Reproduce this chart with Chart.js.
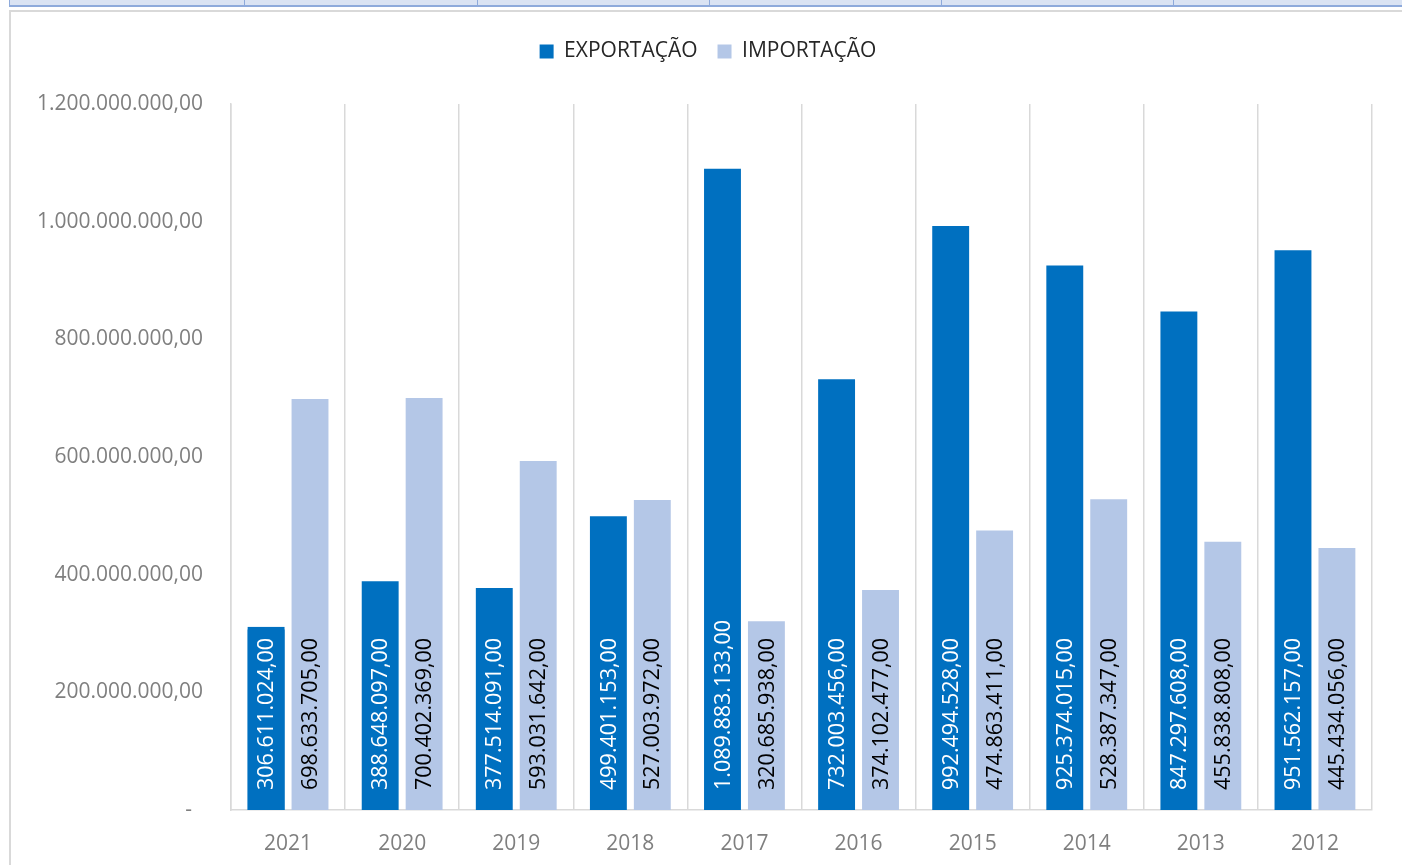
<!DOCTYPE html>
<html>
<head>
<meta charset="utf-8">
<script src="https://cdn.jsdelivr.net/npm/chart.js@4.4.1/dist/chart.umd.min.js"></script>
<style>
  body { margin: 0; background: #fff; overflow: hidden; }
  #strip { position: absolute; left: 9px; top: 0; width: 1393px; height: 5px; background: #dae3f3; border-bottom: 2px solid #8eaadb; border-left: 1px solid #8eaadb; }
  .col { position: absolute; top: 0; height: 5px; width: 1px; background: #8eaadb; }
  #frame { position: absolute; left: 9px; top: 10px; width: 1400px; height: 870px; border-left: 2px solid #d9d9d9; border-top: 2px solid #d9d9d9; }
  canvas { position: absolute; left: 0; top: 0; }
</style>
</head>
<body>
<div id="strip">
  <div class="col" style="left:234px"></div>
  <div class="col" style="left:467px"></div>
  <div class="col" style="left:699px"></div>
  <div class="col" style="left:931px"></div>
  <div class="col" style="left:1163px"></div>
</div>
<div id="frame"></div>
<canvas id="chart" width="1402" height="865"></canvas>
<script>
const years = ['2021', '2020', '2019', '2018', '2017', '2016', '2015', '2014', '2013', '2012'];
const exportacao = [306611024, 388648097, 377514091, 499401153, 1089883133, 732003456, 992494528, 925374015, 847297608, 951562157];
const importacao = [698633705, 700402369, 593031642, 527003972, 320685938, 374102477, 474863411, 528387347, 455838808, 445434056];
const yTicks = [0, 200000000, 400000000, 600000000, 800000000, 1000000000, 1200000000];

const FONT = '"Open Sans", sans-serif';

// formato brasileiro: 1.234.567,00
function fmt(v) {
    const s = Math.round(v).toString().replace(/\B(?=(\d{3})+(?!\d))/g, '.');
    return s + ',00';
}

// espaço extra abaixo da legenda e leve deslocamento para a direita
const legendGap = {
    id: 'legendGap',
    afterInit(chart) {
        const lg = chart.legend;
        const fit = lg.fit;
        lg.fit = function () {
            fit.call(this);
            this.height += 32;
        };
    },
    beforeDraw(chart) {
        chart.legend.left += 12;
        chart.legend.right += 12;
    }
};

// rótulos verticais na base das barras, com caixa da cor da barra
const baseLabels = {
    id: 'baseLabels',
    afterDatasetsDraw(chart) {
        const ctx = chart.ctx;
        ctx.save();
        ctx.font = '21.5px ' + FONT;
        chart.data.datasets.forEach((ds, i) => {
            const meta = chart.getDatasetMeta(i);
            meta.data.forEach((bar, j) => {
                const text = fmt(ds.data[j]);
                const tw = ctx.measureText(text).width;
                const w = bar.width;
                const top = bar.base - 20 - tw - 11;
                if (top < bar.y) {
                    ctx.fillStyle = ds.backgroundColor;
                    ctx.fillRect(bar.x - w / 2, top, w, bar.base - top);
                }
                ctx.save();
                ctx.translate(bar.x + 1, bar.base - 20);
                ctx.rotate(-Math.PI / 2);
                ctx.fillStyle = ds.labelColor;
                ctx.textAlign = 'left';
                ctx.textBaseline = 'middle';
                ctx.fillText(text, 0, 0);
                ctx.restore();
            });
        });
        ctx.restore();
    }
};

new Chart(document.getElementById('chart'), {
    type: 'bar',
    data: {
        labels: years,
        datasets: [{
            label: 'EXPORTAÇÃO',
            data: exportacao,
            backgroundColor: '#0070c0',
            labelColor: '#ffffff',
            barPercentage: 0.84,
            categoryPercentage: 0.77
        }, {
            label: 'IMPORTAÇÃO',
            data: importacao,
            backgroundColor: '#b4c7e7',
            labelColor: '#000000',
            barPercentage: 0.84,
            categoryPercentage: 0.77
        }]
    },
    options: {
        responsive: false,
        animation: false,
        devicePixelRatio: 1,
        layout: {
            padding: { left: 20, right: 30, top: 21, bottom: 8 }
        },
        plugins: {
            legend: {
                position: 'top',
                labels: {
                    color: '#262626',
                    font: { family: FONT, size: 21 },
                    boxWidth: 14,
                    boxHeight: 14,
                    padding: 20
                }
            },
            tooltip: { enabled: false }
        },
        scales: {
            x: {
                grid: {
                    display: true,
                    color: '#d9d9d9',
                    lineWidth: 1.5,
                    drawTicks: false
                },
                border: { color: '#d9d9d9', width: 1.5 },
                ticks: {
                    color: '#7f7f7f',
                    font: { family: FONT, size: 21 },
                    padding: 21
                },
                afterFit(scale) {
                    scale.height = 47;
                }
            },
            y: {
                min: 0,
                max: 1200000000,
                grid: { display: false },
                border: { color: '#d9d9d9', width: 1.5 },
                afterBuildTicks(scale) {
                    scale.ticks = yTicks.map(v => ({ value: v }));
                },
                ticks: {
                    color: '#7f7f7f',
                    font: { family: FONT, size: 21 },
                    padding: 20,
                    callback: v => v === 0 ? '-  ' : fmt(v)
                },
                afterFit(scale) {
                    scale.width = 211;
                }
            }
        }
    },
    plugins: [legendGap, baseLabels]
});
</script>
</body>
</html>
